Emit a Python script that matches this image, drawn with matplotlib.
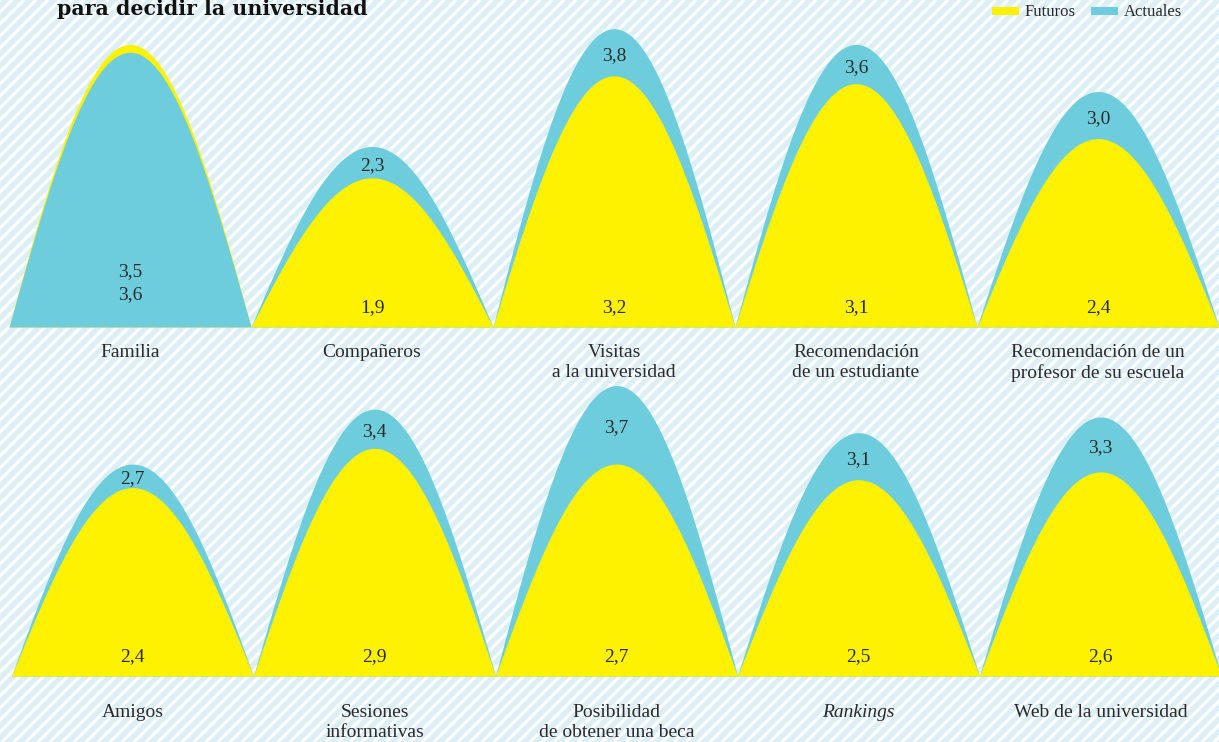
import numpy as np
import matplotlib

matplotlib.use("Agg")
import matplotlib.pyplot as plt
from matplotlib.patches import Rectangle

# values (1-4 scale)
row1_labels = ["Familia", "Compañeros", "Visitas\na la universidad",
               "Recomendación\nde un estudiante",
               "Recomendación de un\nprofesor de su escuela"]
row1_futuros = [3.6, 1.9, 3.2, 3.1, 2.4]
row1_actuales = [3.5, 2.3, 3.8, 3.6, 3.0]

row2_labels = ["Amigos", "Sesiones\ninformativas", "Posibilidad\nde obtener una beca",
               "Rankings", "Web de la universidad"]
row2_futuros = [2.4, 2.9, 2.7, 2.5, 2.6]
row2_actuales = [2.7, 3.4, 3.7, 3.1, 3.3]

italic_labels = {"Rankings"}

YELLOW = "#fff200"
BLUE = "#6ecddc"
BG = "#dceff5"
TEXT = "#2b2b2b"
SERIF = ["Liberation Serif", "DejaVu Serif"]

W, H = 1219, 742
fig = plt.figure(figsize=(W / 100, H / 100), dpi=100)
fig.patch.set_facecolor(BG)

# striped background
bg = fig.add_axes([0, 0, 1, 1], zorder=-10)
bg.set_xlim(0, W)
bg.set_ylim(0, H)
bg.set_axis_off()
for c in np.arange(-H, W + 12, 12):
    bg.plot([c, c + H], [0, H], color="white", lw=2.3, solid_capstyle="butt")


def fmt(v):
    return f"{v:.1f}".replace(".", ",")


def draw_row(ax, labels, fut, act, label_y):
    ax.set_xlim(-0.5, len(labels) - 0.5)
    ax.set_ylim(0, 4)
    ax.set_axis_off()
    ax.patch.set_alpha(0)
    for i, (lab, f, a) in enumerate(zip(labels, fut, act)):
        xs = np.linspace(i - 0.5, i + 0.5, 300)
        shape = np.cos(np.pi * (xs - i))
        layers = [(a, BLUE), (f, YELLOW)]
        if f > a:
            layers = layers[::-1]
        for v, col in layers:
            ax.fill_between(xs, 0, v * shape, color=col, lw=0, clip_on=False)
        num = dict(ha="center", va="center", fontsize=14, color=TEXT, family=SERIF)
        if f > a:
            ax.text(i, 0.70, fmt(a), **num)
            ax.text(i, 0.41, fmt(f), **num)
        else:
            ax.text(i, (a + f) / 2 - 0.04, fmt(a), **num)
            ax.text(i, 0.25, fmt(f), **num)
        ax.text(i, label_y, lab, ha="center", va="top", fontsize=14,
                color=TEXT, family=SERIF, linespacing=1.2,
                style="italic" if lab in italic_labels else "normal")


ax1 = fig.add_axes([9 / W, (H - 327) / H, 1210 / W, 314 / H])
draw_row(ax1, row1_labels, row1_futuros, row1_actuales, -0.22)
ax2 = fig.add_axes([11.5 / W, (H - 676) / H, 1210 / W, 314 / H])
draw_row(ax2, row2_labels, row2_futuros, row2_actuales, -0.36)

# title (second line, top is cut off in the source)
fig.text(57 / W, 1 - 15 / H, "para decidir la universidad", fontsize=14.8,
         fontweight="bold", family=["DejaVu Serif"], color="#111111", va="baseline")

# legend
for x0, col, name in [(992, YELLOW, "Futuros"), (1091, BLUE, "Actuales")]:
    fig.add_artist(Rectangle((x0 / W, 1 - 15 / H), 27 / W, 8 / H,
                             transform=fig.transFigure, color=col, lw=0))
    fig.text((x0 + 33) / W, 1 - 12 / H, name, fontsize=12, family=SERIF,
             color=TEXT, va="center")

fig.savefig("out.png", dpi=100, facecolor=fig.get_facecolor())
